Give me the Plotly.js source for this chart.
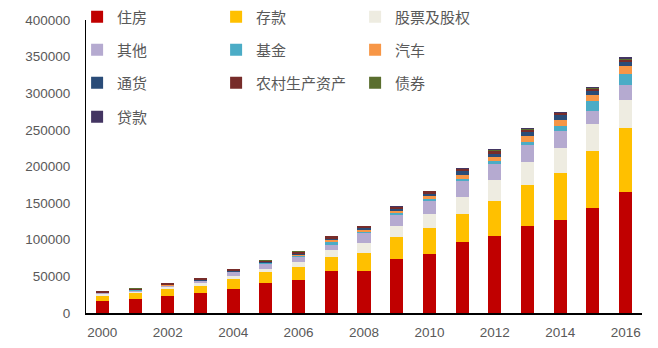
<!DOCTYPE html>
<html>
<head>
<meta charset="utf-8">
<script src="https://cdn.plot.ly/plotly-3.0.1.min.js"></script>
<style>html,body{margin:0;padding:0;background:#fff;}#chart{width:658px;height:348px;}</style>
</head>
<body>
<div id="chart"></div>
<script>
const years = [2000,2001,2002,2003,2004,2005,2006,2007,2008,2009,2010,2011,2012,2013,2014,2015,2016];
const housing  = [16500,19600,22900,27500,32500,40800,44900,57300,57700,74200,80700,97100,105200,119000,126600,143600,164800];
const deposits = [7300,7400,10100,9600,13300,14700,17500,19200,24300,28900,34700,38500,47900,56300,64200,77300,87300];
const equities = [2300,1800,2700,3300,4600,5000,7300,9600,13300,16000,19800,23400,27900,30200,34200,36700,38900];
const others   = [800,1800,1400,2700,5100,6800,7200,6900,13700,14700,17400,21500,22000,23900,23400,18300,20600];
const funds    = [200,200,300,300,400,400,1000,3700,1500,2700,3300,2800,4500,3800,6900,12900,14700];
const cars     = [300,300,400,500,500,500,1000,3200,3100,3200,3200,5500,5000,7800,8200,8700,10600];
const currency = [500,500,600,700,1500,900,1500,1800,2000,2200,3500,4500,4600,6300,6500,5900,5500];
const rural    = [2000,1700,2400,2700,1500,1900,3100,2800,2600,2600,3300,3200,4000,2800,2500,2500,3600];
const bonds    = [400,300,400,400,400,800,500,500,500,600,700,600,1300,1200,700,600,700];
const loans    = [300,200,300,300,200,200,400,400,400,500,600,800,2000,1200,1300,1500,3000];

const names  = ['住房','存款','股票及股权','其他','基金','汽车','通货','农村生产资产','债券','贷款'];
const series = [housing,deposits,equities,others,funds,cars,currency,rural,bonds,loans];
const colors = ['#C00000','#FFC000','#EEECE1','#B5AAD0','#4BACC6','#F79646','#2A4C78','#772C2A','#5A6E2E','#433562'];

// legend grid: 3 columns, rows of 3
const colX = [-0.016, 0.234, 0.484];
const rowY = [1.0103, 0.8975, 0.7848, 0.6686];
const legFont = {family:'"Noto Sans CJK SC", "Noto Sans", sans-serif', size:15, color:'#595959'};

const layout = {
  width:658, height:348,
  margin:{l:86, r:16, t:20, b:35, autoexpand:false},
  paper_bgcolor:'#fff', plot_bgcolor:'#fff',
  barmode:'stack', bargap:0.6,
  showlegend:true,
  font:{family:'"Liberation Sans", Arial, sans-serif', size:13.5, color:'#595959'},
  xaxis:{range:[1999.5,2016.5], tick0:2000, dtick:2, tickformat:'d',
    showline:true, linecolor:'#000', linewidth:1.5, ticks:'', showgrid:false, zeroline:false,
    ticklabelstandoff:6, tickfont:{size:13.5, color:'#595959'}},
  yaxis:{range:[0,400000], dtick:50000, tickformat:'d',
    showline:true, linecolor:'#000', linewidth:1, ticks:'', showgrid:false, zeroline:false,
    ticklabelstandoff:12, tickfont:{size:13.5, color:'#595959'}}
};

const traces = series.map((s,i)=>{
  const key = i===0 ? 'legend' : 'legend'+(i+1);
  layout[key] = {orientation:'v', x:colX[i%3], xanchor:'left', y:rowY[Math.floor(i/3)], yanchor:'middle',
    font:legFont, itemwidth:30, bgcolor:'rgba(0,0,0,0)'};
  return {type:'bar', x:years, y:s, name:names[i],
    marker:{color:colors[i], line:{width:0}}, legend:key, hoverinfo:'x+y+name'};
});

Plotly.newPlot('chart', traces, layout, {displayModeBar:false, staticPlot:true});
</script>
</body>
</html>
